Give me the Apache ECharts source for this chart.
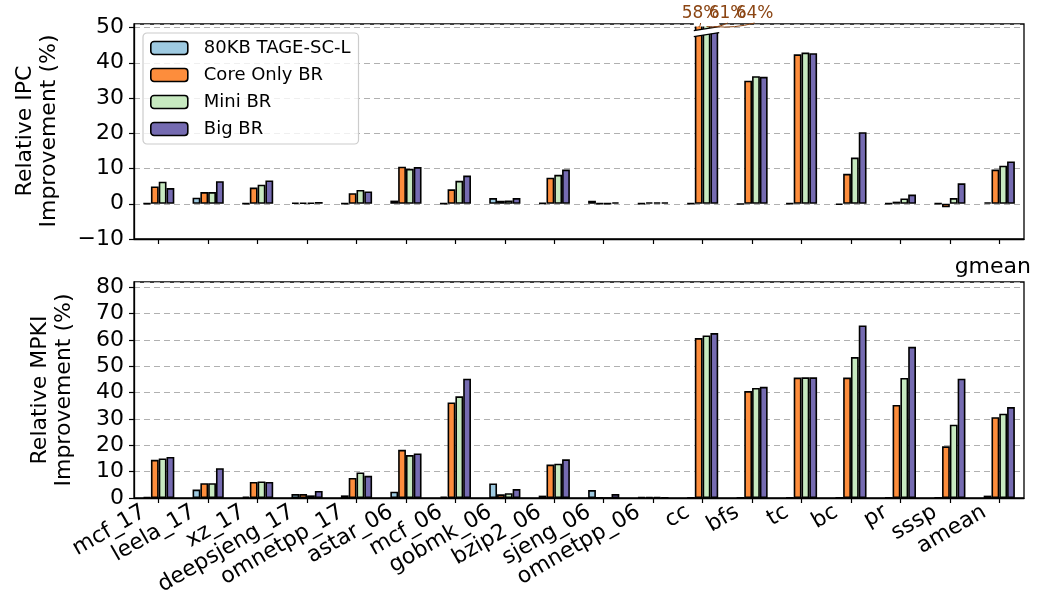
<!DOCTYPE html>
<html>
<head>
<meta charset="utf-8">
<script src="https://cdn.jsdelivr.net/npm/echarts@6/dist/echarts.min.js"></script>
<style>
html,body{margin:0;padding:0;background:#fff;}
#c{width:1039px;height:607px;}
</style>
</head>
<body>
<div id="c"></div>
<script>
const categories = ['mcf_17','leela_17','xz_17','deepsjeng_17','omnetpp_17','astar_06','mcf_06','gobmk_06','bzip2_06','sjeng_06','omnetpp_06','cc','bfs','tc','bc','pr','sssp','amean'];
const ipcCategories = ['mcf_17','leela_17','xz_17','deepsjeng_17','omnetpp_17','astar_06','mcf_06','gobmk_06','bzip2_06','sjeng_06','omnetpp_06','cc','bfs','tc','bc','pr','sssp','gmean'];
const seriesNames = ['80KB TAGE-SC-L','Core Only BR','Mini BR','Big BR'];

const ipcTage = [0.1,1.7,0.1,0.3,0.1,0.9,0.1,1.6,0.2,0.85,0.1,0.1,-0.1,0.1,-0.3,0.1,0.1,0.4];
const ipcCore = [4.9,3.3,4.6,0.3,3.0,10.5,4.1,0.85,7.4,0.1,0.4,58,34.9,42.4,8.5,0.6,-1.0,9.7];
const ipcMini = [6.25,3.3,5.4,0.3,3.9,9.9,6.5,0.95,8.2,0.1,0.4,61,36.2,42.9,13.1,1.5,1.6,10.8];
const ipcBig  = [4.45,6.4,6.6,0.5,3.5,10.4,8.0,1.6,9.7,0.4,0.4,64,36.0,42.7,20.3,2.6,5.8,12.0];

const mpkiTage = [0.3,3.2,0.5,1.5,1.0,2.4,0.5,5.5,0.9,3.0,0.3,0.1,0.1,0.1,0.1,0.1,0.1,0.9];
const mpkiCore = [14.5,5.6,6.1,1.5,7.6,18.3,36.3,1.4,12.7,0.1,0.3,60.7,40.6,45.7,45.7,35.3,19.6,30.7];
const mpkiMini = [15.0,5.6,6.3,1.0,9.7,16.3,38.6,1.8,13.0,0.05,0.4,61.7,41.8,45.8,53.5,45.6,27.8,32.0];
const mpkiBig  = [15.6,11.3,6.1,2.7,8.4,16.9,45.3,3.4,14.7,1.5,0.2,62.6,42.2,45.8,65.5,57.4,45.3,34.5];

const ipcTicks = [-10,0,10,20,30,40,50];
const mpkiTicks = [0,10,20,30,40,50,60,70,80];
const clippedCategory = 'cc';
const clippedLabels = ['58%','61%','64%'];

const colors = ['#9ecae1','#fd8d3c','#c7e9c0','#756bb1'];
const FONT = 'DejaVu Sans';
const BW = 7.8;

const chart = echarts.init(document.getElementById('c'), null, {renderer:'canvas'});

function yAxis(gridIndex, min, max){
  return {
    type:'value', gridIndex, min, max, interval:10,
    axisLine:{show:true, lineStyle:{color:'#000', width:1.3}},
    axisTick:{show:true, length:5, lineStyle:{color:'#000', width:1.2}},
    axisLabel:{color:'#000', fontSize:22, fontFamily:FONT, margin:10, showMaxLabel:false,
      formatter:v => String(v).replace('-', '\u2212')},
    splitLine:{show:true, lineStyle:{color:'#b0b0b0', type:[6,4], width:1.2}}
  };
}
function xAxis(gridIndex, data, showLabel){
  return {
    type:'category', gridIndex, data,
    axisLine:{show:true, onZero:false, lineStyle:{color:'#000', width:1.3}},
    axisTick:{show:true, alignWithLabel:true, length:5, lineStyle:{color:'#000', width:1.2}},
    axisLabel:{show:showLabel, interval:0, rotate:30, color:'#000', fontSize:22, fontFamily:FONT,
      margin:4, padding:[0,17,0,0]},
    splitLine:{show:false}
  };
}
function bars(values, idx, axisIdx){
  return {
    type:'bar', name:seriesNames[idx], data:values,
    xAxisIndex:axisIdx, yAxisIndex:axisIdx,
    barWidth:BW, barGap:'0%', clip:true,
    itemStyle:{color:colors[idx], borderColor:'#000', borderWidth:1.6},
    emphasis:{disabled:true}, animation:false
  };
}

chart.setOption({
  animation:false,
  textStyle:{fontFamily:FONT},
  grid:[
    {left:134, right:15, top:24, height:215, show:true, borderColor:'#000', borderWidth:1.3, backgroundColor:'transparent'},
    {left:134, right:15, top:282, height:216, show:true, borderColor:'#000', borderWidth:1.3, backgroundColor:'transparent'}
  ],
  xAxis:[xAxis(0, ipcCategories, false), xAxis(1, categories, true)],
  yAxis:[yAxis(0, ipcTicks[0], 51), yAxis(1, mpkiTicks[0], 82)],
  legend:{
    left:143, top:33, orient:'vertical',
    data:seriesNames,
    itemWidth:37, itemHeight:13, itemGap:7,
    padding:[5,8,5,7],
    borderColor:'#cccccc', borderWidth:1.2, borderRadius:4,
    backgroundColor:'rgba(255,255,255,0.8)',
    selectedMode:false,
    itemStyle:{borderColor:'#000', borderWidth:1.6},
    textStyle:{fontSize:18, color:'#000', fontFamily:FONT, lineHeight:20, padding:[0,0,0,11]}
  },
  series:[
    bars(ipcTage,0,0), bars(ipcCore,1,0), bars(ipcMini,2,0), bars(ipcBig,3,0),
    bars(mpkiTage,0,1), bars(mpkiCore,1,1), bars(mpkiMini,2,1), bars(mpkiBig,3,1)
  ]
});

// annotations computed from the axes
const g = [];
const ccTop = chart.convertToPixel({gridIndex:0}, [clippedCategory, 50]);
const cx = ccTop[0];
const y50 = ccTop[1];
const brown = '#8B4513';
const x0 = cx - 1.0*BW - 1, x1 = cx + 2.0*BW + 1;
g.push({type:'rect', z:99, shape:{x:x0, y:y50-5, width:x1-x0, height:4}, style:{fill:'#fff'}});
g.push({type:'polygon', z:100, shape:{points:[[x0, y50+3],[x1, y50-1],[x1, y50+5],[x0, y50+9]]}, style:{fill:'#fff', stroke:null}});
g.push({type:'line', z:101, shape:{x1:x0, y1:y50+3, x2:x1, y2:y50-1}, style:{stroke:'#000', lineWidth:1.3}});
g.push({type:'line', z:101, shape:{x1:x0, y1:y50+9, x2:x1, y2:y50+5}, style:{stroke:'#000', lineWidth:1.3}});
const labelX = [cx-2, cx+25, cx+52];
clippedLabels.forEach((t,i)=>{
  const bx = cx + (i-0.5)*BW;
  g.push({type:'bezierCurve', z:102, shape:{x1:bx, y1:y50-1, x2:labelX[i], y2:23, cpx1:(bx+labelX[i])/2, cpy1:y50+1}, style:{stroke:brown, lineWidth:1, fill:null}});
  g.push({type:'text', z:103, style:{text:t, x:labelX[i], y:14, fill:brown, font:'17px "DejaVu Sans"', align:'center', verticalAlign:'middle'}});
});
g.push({type:'text', x:25, y:131, rotation:Math.PI/2, style:{text:'Relative IPC', font:'22px "DejaVu Sans"', fill:'#000', align:'center', verticalAlign:'middle'}});
g.push({type:'text', x:49, y:131, rotation:Math.PI/2, style:{text:'Improvement (%)', font:'22px "DejaVu Sans"', fill:'#000', align:'center', verticalAlign:'middle'}});
g.push({type:'text', x:40, y:390, rotation:Math.PI/2, style:{text:'Relative MPKI', font:'22px "DejaVu Sans"', fill:'#000', align:'center', verticalAlign:'middle'}});
g.push({type:'text', x:64, y:390, rotation:Math.PI/2, style:{text:'Improvement (%)', font:'22px "DejaVu Sans"', fill:'#000', align:'center', verticalAlign:'middle'}});
g.push({type:'text', x:1031, y:267, style:{text:'gmean', font:'22px "DejaVu Sans"', fill:'#000', align:'right', verticalAlign:'middle'}});
chart.setOption({graphic:g});
</script>
</body>
</html>
